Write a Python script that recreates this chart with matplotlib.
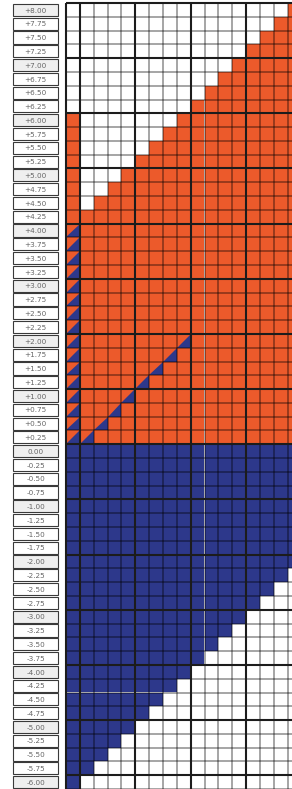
import numpy as np
import matplotlib
matplotlib.use("Agg")
import matplotlib.pyplot as plt
from matplotlib.patches import Rectangle, Polygon

# row labels, top to bottom
row_values = np.arange(8.0, -6.01, -0.25)
row_labels = ["0.00" if abs(v) < 1e-9 else f"{v:+.2f}" for v in row_values]

# cell states: W white, O orange, B blue, S split (blue lower-right)
grid_rows = [
    "WWWWWWWWWWWWWWWWO",  # +8.00
    "WWWWWWWWWWWWWWWOO",
    "WWWWWWWWWWWWWWOOO",
    "WWWWWWWWWWWWWOOOO",
    "WWWWWWWWWWWWOOOOO",  # +7.00
    "WWWWWWWWWWWOOOOOO",
    "WWWWWWWWWWOOOOOOO",
    "WWWWWWWWWOOOOOOOO",
    "OWWWWWWWOOOOOOOOO",  # +6.00
    "OWWWWWWOOOOOOOOOO",
    "OWWWWWOOOOOOOOOOO",
    "OWWWWOOOOOOOOOOOO",
    "OWWWOOOOOOOOOOOOO",  # +5.00
    "OWWOOOOOOOOOOOOOO",
    "OWOOOOOOOOOOOOOOO",
    "OOOOOOOOOOOOOOOOO",
    "SOOOOOOOOOOOOOOOO",  # +4.00
    "SOOOOOOOOOOOOOOOO",
    "SOOOOOOOOOOOOOOOO",
    "SOOOOOOOOOOOOOOOO",
    "SOOOOOOOOOOOOOOOO",  # +3.00
    "SOOOOOOOOOOOOOOOO",
    "SOOOOOOOOOOOOOOOO",
    "SOOOOOOOOOOOOOOOO",
    "SOOOOOOOSOOOOOOOO",  # +2.00
    "SOOOOOOSOOOOOOOOO",
    "SOOOOOSOOOOOOOOOO",
    "SOOOOSOOOOOOOOOOO",
    "SOOOSOOOOOOOOOOOO",  # +1.00
    "SOOSOOOOOOOOOOOOO",
    "SOSOOOOOOOOOOOOOO",
    "SSOOOOOOOOOOOOOOO",
    "BBBBBBBBBBBBBBBBB",  # 0.00
    "BBBBBBBBBBBBBBBBB",
    "BBBBBBBBBBBBBBBBB",
    "BBBBBBBBBBBBBBBBB",
    "BBBBBBBBBBBBBBBBB",  # -1.00
    "BBBBBBBBBBBBBBBBB",
    "BBBBBBBBBBBBBBBBB",
    "BBBBBBBBBBBBBBBBB",
    "BBBBBBBBBBBBBBBBB",  # -2.00
    "BBBBBBBBBBBBBBBBW",
    "BBBBBBBBBBBBBBBWW",
    "BBBBBBBBBBBBBBWWW",
    "BBBBBBBBBBBBBWWWW",  # -3.00
    "BBBBBBBBBBBBWWWWW",
    "BBBBBBBBBBBWWWWWW",
    "BBBBBBBBBBWWWWWWW",
    "BBBBBBBBBWWWWWWWW",  # -4.00
    "BBBBBBBBWWWWWWWWW",
    "BBBBBBBWWWWWWWWWW",
    "BBBBBBWWWWWWWWWWW",
    "BBBBBWWWWWWWWWWWW",  # -5.00
    "BBBBWWWWWWWWWWWWW",
    "BBBWWWWWWWWWWWWWW",
    "BBWWWWWWWWWWWWWWW",
    "BWWWWWWWWWWWWWWWW",  # -6.00
]

orange = "#ec5a2b"
blue = "#2d388b"
colors = {"W": "white", "O": orange, "B": blue}

n_rows = len(grid_rows)
n_cols = len(grid_rows[0])

fig = plt.figure(figsize=(2.92, 7.89), dpi=100)
ax = fig.add_axes([0, 0, 1, 1])
cw, ch = 13.85, 13.79
ax.set_xlim(-66 / cw, (292 - 66) / cw)
ax.set_ylim((789 - 3) / ch, -3 / ch)
ax.axis("off")

for i, row in enumerate(grid_rows):
    for j, s in enumerate(row):
        if s == "S":
            ax.add_patch(Rectangle((j, i), 1, 1, facecolor=orange, edgecolor="none"))
            ax.add_patch(Polygon([(j, i + 1), (j + 1, i + 1), (j + 1, i)],
                                 closed=True, facecolor=blue, edgecolor="none"))
        else:
            ax.add_patch(Rectangle((j, i), 1, 1, facecolor=colors[s], edgecolor="none"))

# grid lines
for i in range(n_rows + 1):
    if i % 4 == 0:
        ax.hlines(i, 0, n_cols, color="#1c1c1c", lw=1.5, zorder=3)
    else:
        ax.hlines(i, 0, n_cols, color="black", alpha=0.45, lw=1.1, zorder=2)
thick_cols = [0, 1, 5, 9, 13, 17]
for j in range(n_cols + 1):
    if j in thick_cols:
        ax.vlines(j, 0, n_rows, color="#1c1c1c", lw=1.5, zorder=3)
    else:
        ax.vlines(j, 0, n_rows, color="black", alpha=0.45, lw=1.1, zorder=2)

# row label boxes
for i, (v, lab) in enumerate(zip(row_values, row_labels)):
    face = "#efefef" if abs(v - round(v)) < 1e-9 else "white"
    ax.add_patch(Rectangle((-3.83, i + 0.06), 3.25, 0.88, facecolor=face,
                           edgecolor="#3a3a3a", lw=0.8, zorder=4))
    ax.text(-2.2, i + 0.55, lab, ha="center", va="center", fontsize=5.2,
            color="#666666", family="DejaVu Sans", zorder=5)

fig.savefig("out.png", dpi=100)
